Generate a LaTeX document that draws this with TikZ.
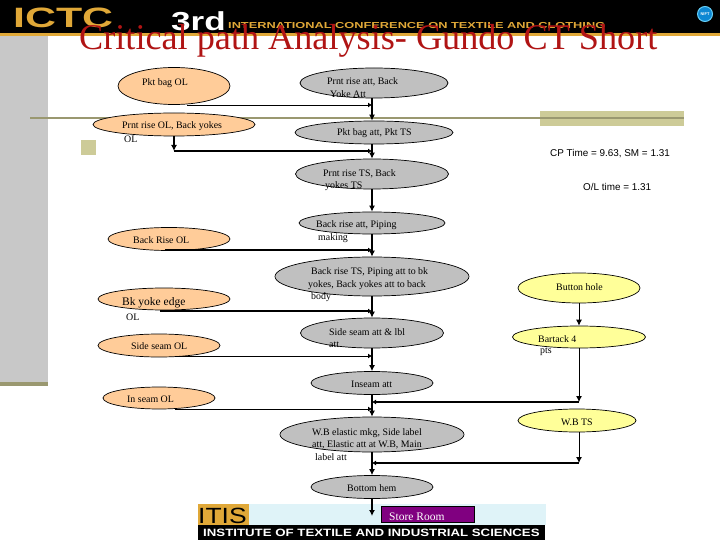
\documentclass[tikz,border=0pt]{standalone}
\usepackage{graphicx}
\usepackage{fontspec}
\setmainfont{Liberation Serif}
\newfontfamily\arialf{Liberation Sans}
\usetikzlibrary{shapes.geometric,arrows.meta,calc}
\definecolor{peach}{HTML}{FFCC99}
\definecolor{grayfill}{HTML}{C0C0C0}
\definecolor{lemon}{HTML}{FFFF99}
\definecolor{bandgray}{HTML}{C8C8C8}
\definecolor{olive}{HTML}{9A9870}
\definecolor{khaki}{HTML}{CDCB98}
\definecolor{goldt}{HTML}{E0A838}
\definecolor{titlered}{HTML}{B01414}
\definecolor{skyb}{HTML}{DFF3F8}
\definecolor{purpl}{HTML}{800080}
\tikzset{
 x=1pt,y=-1pt,
 oval/.style={ellipse,draw=black,line width=.7pt,inner sep=0pt,minimum width=#1},
 peachoval/.style={oval=#1,fill=peach},
 grayoval/.style={oval=#1,fill=grayfill},
 lemonoval/.style={oval=#1,fill=lemon},
 lbl/.style={anchor=west,inner sep=0pt,font=\fontsize{9.9}{10}\selectfont,text=black},
 sanslbl/.style={anchor=west,inner sep=0pt,font=\arialf\fontsize{9.9}{10}\selectfont,text=black},
 flow/.style={line width=1.6pt,-{Latex[length=6pt,width=6pt]}},
 thinflow/.style={line width=.9pt,-{Latex[length=6pt,width=6pt]}},
 feedline/.style={line width=1.6pt,-{Latex[length=4pt,width=5pt]}},
 thinfeed/.style={line width=.9pt,-{Latex[length=4pt,width=5pt]}},
}
\begin{document}
\begin{tikzpicture}
\useasboundingbox (0,0) rectangle (720,540);
\fill[white] (0,0) rectangle (720,540);
% slide background
\fill[black] (0,0) rectangle (720,33);
\fill[goldt] (0,33) rectangle (720,36);
\fill[bandgray] (0,36) rectangle (48,382);
\fill[olive] (0,382) rectangle (48,386);
\fill[khaki] (540,111) rectangle (684,126);
\fill[khaki] (81,140) rectangle (96,155);
\fill[olive] (30,117) rectangle (684,119);
\node[anchor=west,inner sep=0pt,text=goldt,font=\arialf\bfseries\fontsize{28}{28}\selectfont] (ictc) at (13,18) {\scalebox{1.53}[1]{ICTC}};
\node[anchor=west,inner sep=0pt,text=white,font=\arialf\bfseries\fontsize{26}{26}\selectfont] (third) at (171,21) {\scalebox{1.35}[1]{3rd}};
\node[anchor=west,inner sep=0pt,text=goldt,font=\arialf\bfseries\fontsize{8.7}{9}\selectfont] (conf) at (228,26) {\scalebox{1.47}[1]{INTERNATIONAL CONFERENCE ON TEXTILE AND CLOTHING}};
\node[circle,fill=cyan!70!blue,draw=cyan!60!white,line width=1pt,minimum size=15pt,inner sep=0pt,text=white,font=\arialf\bfseries\fontsize{4}{4}\selectfont] (badge) at (705,14) {NIFT};
% logo
\fill[skyb] (198,504) rectangle (546,525);
\fill[goldt] (198,504) rectangle (249,525);
\fill[black] (198,525) rectangle (545,540);
\node[anchor=west,inner sep=0pt,text=black,font=\arialf\fontsize{22}{22}\selectfont] (itis) at (198,516) {\scalebox{1.2}[1]{ITIS}};
\node[anchor=west,inner sep=0pt,text=white,font=\arialf\bfseries\fontsize{10.6}{11}\selectfont] (inst) at (203,532.5) {\scalebox{1.25}[1]{INSTITUTE OF TEXTILE AND INDUSTRIAL SCIENCES}};
% title
\node[anchor=west,inner sep=0pt,text=titlered,font=\fontsize{36.2}{36}\selectfont] (title) at (79,41) {Critical path Analysis- Gundo CT Short};
% ovals
\node[peachoval=112pt,minimum height=37pt] (a1) at (174,86) {};
\node[peachoval=162pt,minimum height=23pt] (a2) at (174,124.5) {};
\node[peachoval=122pt,minimum height=23pt] (a3) at (169,239) {};
\node[peachoval=132pt,minimum height=22pt] (a4) at (164,299) {};
\node[peachoval=122pt,minimum height=23pt] (a5) at (159,345.5) {};
\node[peachoval=112pt,minimum height=22pt] (a6) at (159,398) {};
\node[grayoval=148pt,minimum height=30pt] (b1) at (374,83) {};
\node[grayoval=158pt,minimum height=23pt] (b2) at (374,132.5) {};
\node[grayoval=153pt,minimum height=30pt] (b3) at (372,174) {};
\node[grayoval=146pt,minimum height=22pt] (b4) at (372,223) {};
\node[grayoval=194pt,minimum height=39pt] (b5) at (372,276.5) {};
\node[grayoval=143pt,minimum height=30pt] (b6) at (372,333) {};
\node[grayoval=122pt,minimum height=23pt] (b7) at (372,383) {};
\node[grayoval=184pt,minimum height=35pt] (b8) at (372,434.5) {};
\node[grayoval=122pt,minimum height=23pt] (b9) at (372,487) {};
\node[lemonoval=122pt,minimum height=30pt] (c1) at (579,288) {};
\node[lemonoval=133pt,minimum height=22pt] (c2) at (579,337) {};
\node[lemonoval=118pt,minimum height=23pt] (c3) at (577,420.5) {};
\node[draw=black,line width=.4pt,fill=purpl,minimum width=93pt,minimum height=16pt,inner sep=0pt] (store) at (427.5,514) {};
% junctions
\coordinate (j1) at (372,105);
\coordinate (j2) at (372,151);
\coordinate (j3) at (372,250);
\coordinate (j4) at (372,311);
\coordinate (j5) at (372,356);
\coordinate (j6) at (372,402);
\coordinate (j8) at (372,409);
\coordinate (j7) at (372,463);
\coordinate (s1) at (187,105);
\coordinate (s2) at (174,151);
\coordinate (s3) at (165,250);
\coordinate (s4) at (160,311);
\coordinate (s5) at (175,356);
\coordinate (s6) at (175,409);
\coordinate (k1) at (579,402);
\coordinate (k2) at (579,463);
\coordinate (e) at (372,516);
% centre line
\draw[flow] ([xshift=-2pt]b1.south) -- ([xshift=-2pt]b2.north);
\draw[flow] ([xshift=-2pt]b2.south) -- (b3.north);
\draw[flow] (b3.south) -- (b4.north);
\draw[flow] (b4.south) -- (b5.north);
\draw[flow] (b5.south) -- (b6.north);
\draw[flow] (b6.south) -- (b7.north);
\draw[flow] (b7.south) -- (b8.north);
\draw[flow] (b8.south) -- (b9.north);
\draw[flow] (b9.south) -- (e);
% side feeds
\draw[thinfeed] (s1) -- (j1);
\draw[line width=1.6pt,-{Latex[length=6pt,width=6pt]}] (a2.south) -- (s2);
\draw[feedline] (s2) -- (j2);
\draw[feedline] (s3) -- (j3);
\draw[feedline] (s4) -- (j4);
\draw[thinfeed] (s5) -- (j5);
\draw[thinfeed] (s6) -- (j8);
% right branch
\draw[thinflow] (c1.south) -- (c2.north);
\draw[thinflow] (c2.south) -- (k1);
\draw[feedline] (k1) -- (j6);
\draw[thinflow] (c3.south -| k2) -- (k2);
\draw[feedline] (k2) -- (j7);
% labels
\node[lbl] (t1) at (142,83) {Pkt bag OL};
\node[lbl] (t2) at (122,126.5) {Prnt rise OL, Back yokes};
\node[lbl] (t3) at (124,139) {OL};
\node[lbl] (t4) at (327,81.5) {Prnt rise att, Back};
\node[lbl] (t5) at (330,94) {Yoke Att};
\node[lbl] (t6) at (337,133) {Pkt bag att, Pkt TS};
\node[lbl] (t7) at (323,173.5) {Prnt rise TS, Back};
\node[lbl] (t8) at (325,186) {yokes TS};
\node[lbl] (t9) at (316,225.5) {Back rise att, Piping};
\node[lbl] (t10) at (318,238) {making};
\node[lbl] (t11) at (133,240.5) {Back Rise OL};
\node[lbl] (t12) at (311,272.5) {Back rise TS, Piping att to bk};
\node[lbl] (t13) at (308,285) {yokes, Back yokes att to back};
\node[lbl] (t14) at (311,297) {body};
\node[lbl,font=\fontsize{11.5}{12}\selectfont] (t15) at (122,303) {Bk yoke edge};
\node[lbl] (t16) at (126,317) {OL};
\node[lbl] (t17) at (131,346.5) {Side seam OL};
\node[lbl] (t18) at (329,332.5) {Side seam att \& lbl};
\node[lbl] (t19) at (329,344.5) {att};
\node[lbl] (t20) at (556,287) {Button hole};
\node[lbl] (t21) at (538,339.5) {Bartack 4};
\node[lbl] (t22) at (540,352) {pts};
\node[lbl] (t23) at (351,384.5) {Inseam att};
\node[lbl] (t24) at (127,399.5) {In seam OL};
\node[lbl] (t25) at (561,422.5) {W.B TS};
\node[lbl] (t26) at (312,433) {W.B elastic mkg, Side label};
\node[lbl] (t27) at (312,445) {att, Elastic att at W.B, Main};
\node[lbl] (t28) at (315,457) {label att};
\node[lbl] (t29) at (347,488.5) {Bottom hem};
\node[lbl,text=white,font=\fontsize{11.5}{12}\selectfont] (t30) at (389,517) {Store Room};
\node[sanslbl] (t31) at (550,153.5) {CP Time = 9.63, SM = 1.31};
\node[sanslbl] (t32) at (583,186.5) {O/L time = 1.31};
\end{tikzpicture}
\end{document}
